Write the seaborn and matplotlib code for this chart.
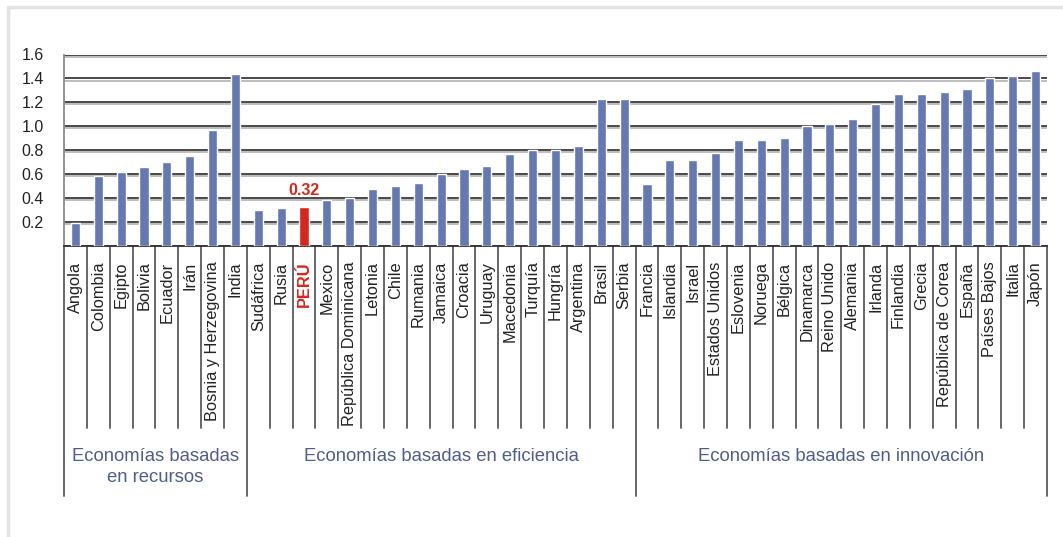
import matplotlib
matplotlib.use("Agg")
import matplotlib.pyplot as plt
import matplotlib.patheffects as pe
from matplotlib.lines import Line2D
import matplotlib.transforms as mtrans
import seaborn as sns
import pandas as pd

# ---------------- data ----------------
recursos = ["Angola", "Colombia", "Egipto", "Bolivia", "Ecuador", "Irán",
            "Bosnia y Herzegovina", "India"]
recursos_vals = [0.19, 0.58, 0.615, 0.66, 0.70, 0.75, 0.97, 1.44]

eficiencia = ["Sudáfrica", "Rusia", "PERÚ", "Mexico", "República Dominicana",
              "Letonia", "Chile", "Rumania", "Jamaica", "Croacia", "Uruguay",
              "Macedonia", "Turquía", "Hungría", "Argentina", "Brasil", "Serbia"]
eficiencia_vals = [0.30, 0.315, 0.32, 0.38, 0.40, 0.47, 0.50, 0.52, 0.60, 0.64,
                   0.665, 0.765, 0.80, 0.80, 0.835, 1.225, 1.225]

innovacion = ["Francia", "Islandia", "Israel", "Estados Unidos", "Eslovenia",
              "Noruega", "Bélgica", "Dinamarca", "Reino Unido", "Alemania",
              "Irlanda", "Finlandia", "Grecia", "República de Corea", "España",
              "Países Bajos", "Italia", "Japón"]
innovacion_vals = [0.515, 0.715, 0.715, 0.775, 0.885, 0.885, 0.90, 1.0, 1.015,
                   1.06, 1.185, 1.27, 1.27, 1.285, 1.31, 1.40, 1.42, 1.46]

group_labels = ["Economías basadas\nen recursos",
                "Economías basadas en eficiencia",
                "Economías basadas en innovación"]
highlight = "PERÚ"
yticks = [0.0, 0.2, 0.4, 0.6, 0.8, 1.0, 1.2, 1.4, 1.6]
ytick_labels = ["", "0.2", "0.4", "0.6", "0.8", "1.0", "1.2", "1.4", "1.6"]

# ---------------- style ----------------
BLUE = "#6478b2"
RED = "#d9261c"
GROUP_COLOR = "#4e5d8c"
sns.set_style("white")
plt.rcParams["font.family"] = ["Liberation Sans", "DejaVu Sans"]

countries = recursos + eficiencia + innovacion
values = recursos_vals + eficiencia_vals + innovacion_vals
df = pd.DataFrame({"country": countries, "value": values})
palette = {c: (RED if c == highlight else BLUE) for c in countries}

fig = plt.figure(figsize=(10.63, 5.37), dpi=100)
W, H = 1063, 537
ax = fig.add_axes([64 / W, 1 - 245.6 / H, (1047 - 64) / W, (245.6 - 54.5) / H])

sns.barplot(data=df, x="country", y="value", hue="country", palette=palette,
            legend=False, width=0.4, ax=ax, saturation=1, zorder=3)

ax.set_xlim(-0.5, len(countries) - 0.5)
ax.set_ylim(0, 1.6)
ax.set_xlabel("")
ax.set_ylabel("")

# y axis
ax.set_yticks(yticks)
ax.set_yticklabels(ytick_labels, fontsize=11.5, color="#222222")
ax.tick_params(axis="y", length=4.5, width=1.3, color="#3a3a3a", pad=10)
ax.yaxis.grid(True, color="#3a3a3a", lw=1.3, zorder=0)
for gl in ax.get_ygridlines():
    gl.set_path_effects([pe.SimpleLineShadow(offset=(0, -1.6), shadow_color="#999999", alpha=0.7),
                         pe.Normal()])
ax.xaxis.grid(False)

# x axis labels
ax.set_xticks(range(len(countries)))
ax.set_xticklabels(countries, rotation=90, fontsize=11.8, color="#222222", va="top", ha="center")
ax.tick_params(axis="x", length=0, pad=11.5)
for lab in ax.get_xticklabels():
    if lab.get_text() == highlight:
        lab.set_color(RED)
        lab.set_fontweight("bold")

for s in ["top", "right"]:
    ax.spines[s].set_visible(False)
ax.spines["left"].set_color("#8a8a8a")
ax.spines["left"].set_linewidth(1.3)
ax.spines["bottom"].set_color("#333333")
ax.spines["bottom"].set_linewidth(1.3)

# value label for highlighted bar
pi = countries.index(highlight)
ax.annotate(f"{values[pi]:.2f}", xy=(pi, values[pi]), xytext=(0, 7),
            textcoords="offset points", ha="center", va="bottom",
            fontsize=11.5, fontweight="bold", color=RED)

# separators below the axis
trans = mtrans.blended_transform_factory(ax.transData, fig.transFigure)
y_axis_fig = 1 - 245.6 / H
y_cat_end = 1 - 428 / H
y_grp_end = 1 - 496 / H
n1, n2, n3 = len(recursos), len(eficiencia), len(innovacion)
group_bounds = [-0.5, n1 - 0.5, n1 + n2 - 0.5, n1 + n2 + n3 - 0.5]
for k in range(len(countries) + 1):
    xb = k - 0.5
    yend = y_grp_end if xb in group_bounds else y_cat_end
    ax.add_line(Line2D([xb, xb], [y_axis_fig, yend], transform=trans,
                       color="#5a5a5a", lw=1.3, clip_on=False))

# group labels
for i, lab in enumerate(group_labels):
    xc = (group_bounds[i] + group_bounds[i + 1]) / 2
    ax.text(xc, 1 - 448 / H, lab, transform=trans, ha="center", va="top",
            fontsize=13.3, color=GROUP_COLOR, linespacing=1.3, multialignment="center")

# outer light frame (top and left)
fig.add_artist(Line2D([8 / W, 1], [1 - 7 / H, 1 - 7 / H], transform=fig.transFigure,
                      color="#e4e4e4", lw=2.5))
fig.add_artist(Line2D([8 / W, 8 / W], [0, 1 - 7 / H], transform=fig.transFigure,
                      color="#e4e4e4", lw=2.5))

fig.savefig("out.png", dpi=100, facecolor="white")
